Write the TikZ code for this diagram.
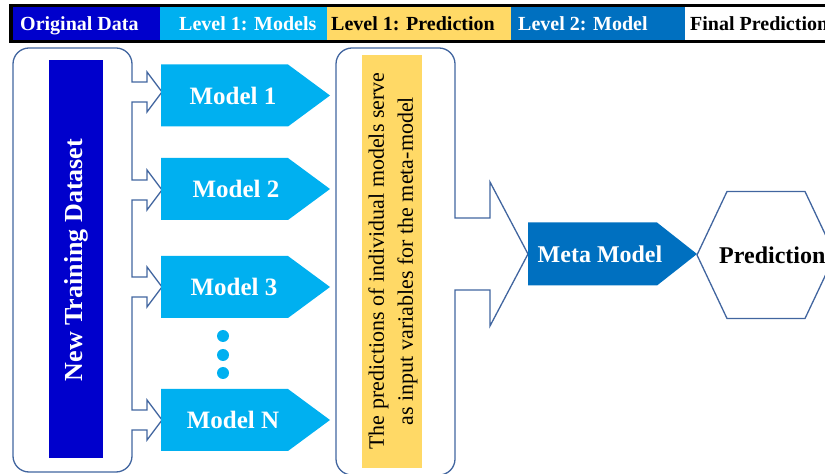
\documentclass[tikz,border=0pt]{standalone}
\usepackage{fontspec}
\setmainfont{Liberation Serif}
\definecolor{dkblue}{HTML}{0000CC}
\definecolor{ltblue}{HTML}{00B0F0}
\definecolor{gold}{HTML}{FFD966}
\definecolor{midblue}{HTML}{0070C0}
\definecolor{edgeblue}{HTML}{41659F}
\begin{document}
\begin{tikzpicture}[x=1pt,y=1pt,
  hdr/.style={font=\fontsize{20}{24}\selectfont\bfseries, inner sep=0pt, anchor=base west},
  modeltxt/.style={text=white, font=\fontsize{25}{30}\selectfont\bfseries, inner sep=0pt},
  outl/.style={draw=edgeblue, line width=1.3pt, line join=miter},
]
\useasboundingbox (0,0) rectangle (825,474);
\clip (0,0) rectangle (825,474);

% header bar
\fill[black] (9,431) rectangle (840,470);
\fill[dkblue] (13,434) rectangle (160,467);
\fill[ltblue] (160,434) rectangle (327,467);
\fill[gold] (327,434) rectangle (511,467);
\fill[midblue] (511,434) rectangle (685,467);
\fill[white] (685,434) rectangle (840,467);
\node[hdr, text=white] (h1) at (20,443) {Original Data};
\node[hdr, text=white] (h2) at (179,443) {Level 1: Models};
\node[hdr, text=black] (h3) at (331,443) {Level 1: Prediction};
\node[hdr, text=white] (h4) at (518,443) {Level 2: Model};
\node[hdr, text=black] (h5) at (690,443) {Final Prediction};

% left container with block arrows
\draw[outl] (29,426) -- (116,426) arc[start angle=90,end angle=0,radius=16]
  -- (132,392) -- (147,392) -- (147,402) -- (162,382) -- (147,362) -- (147,372) -- (132,372)
  -- (132,294) -- (147,294) -- (147,304) -- (162,284) -- (147,264) -- (147,274) -- (132,274)
  -- (132,197) -- (147,197) -- (147,207) -- (162,187) -- (147,167) -- (147,177) -- (132,177)
  -- (132,64) -- (147,64) -- (147,74) -- (162,54) -- (147,34) -- (147,44) -- (132,44)
  -- (132,18) arc[start angle=0,end angle=-90,radius=16]
  -- (29,2) arc[start angle=270,end angle=180,radius=16]
  -- (13,410) arc[start angle=180,end angle=90,radius=16] -- cycle;

\fill[dkblue] (49,16) rectangle (103,414);
\node[rotate=90, text=white, font=\fontsize{26}{30}\selectfont\bfseries] (ntd) at (76,214) {New Training Dataset};

% models
\fill[ltblue] (161,347.5) -- (288,347.5) -- (330,378.5) -- (288,409.5) -- (161,409.5) -- cycle;
\node[modeltxt] (m1) at (233,378.5) {Model 1};
\fill[ltblue] (161,254) -- (288,254) -- (330,285) -- (288,316) -- (161,316) -- cycle;
\node[modeltxt] (m2) at (236,285) {Model 2};
\fill[ltblue] (161,156) -- (288,156) -- (330,187) -- (288,218) -- (161,218) -- cycle;
\node[modeltxt] (m3) at (234,187) {Model 3};
\fill[ltblue] (161,23) -- (288,23) -- (330,54) -- (288,85) -- (161,85) -- cycle;
\node[modeltxt] (mn) at (233,54) {Model N};

\fill[ltblue] (223,138) circle (6);
\fill[ltblue] (223,119) circle (6);
\fill[ltblue] (223,101) circle (6);

% middle container with big arrow
\draw[outl] (352,426) -- (439,426) arc[start angle=90,end angle=0,radius=16]
  -- (455,256) -- (490,256) -- (490,292) -- (528,220) -- (490,148) -- (490,184) -- (455,184)
  -- (455,15) arc[start angle=0,end angle=-90,radius=16]
  -- (352,-1) arc[start angle=270,end angle=180,radius=16]
  -- (336,410) arc[start angle=180,end angle=90,radius=16] -- cycle;

\fill[gold] (362,6) rectangle (422,419);
\node[rotate=90, align=center, font=\fontsize{22}{29}\selectfont] (ytxt) at (393,213)
  {The predictions of individual models serve\\as input variables for the meta-model};

% meta model
\fill[midblue] (528,188.5) -- (657,188.5) -- (697,220) -- (657,251.5) -- (528,251.5) -- cycle;
\node[modeltxt, font=\fontsize{24}{28}\selectfont\bfseries] (meta) at (600,220) {Meta Model};

% prediction hexagon
\draw[outl] (697,219) -- (727,282.5) -- (805,282.5) -- (835,219) -- (805,155.5) -- (727,155.5) -- cycle;
\node[anchor=west, inner sep=0pt, font=\fontsize{24}{28}\selectfont\bfseries] (pred) at (719,219) {Prediction};
\end{tikzpicture}
\end{document}
